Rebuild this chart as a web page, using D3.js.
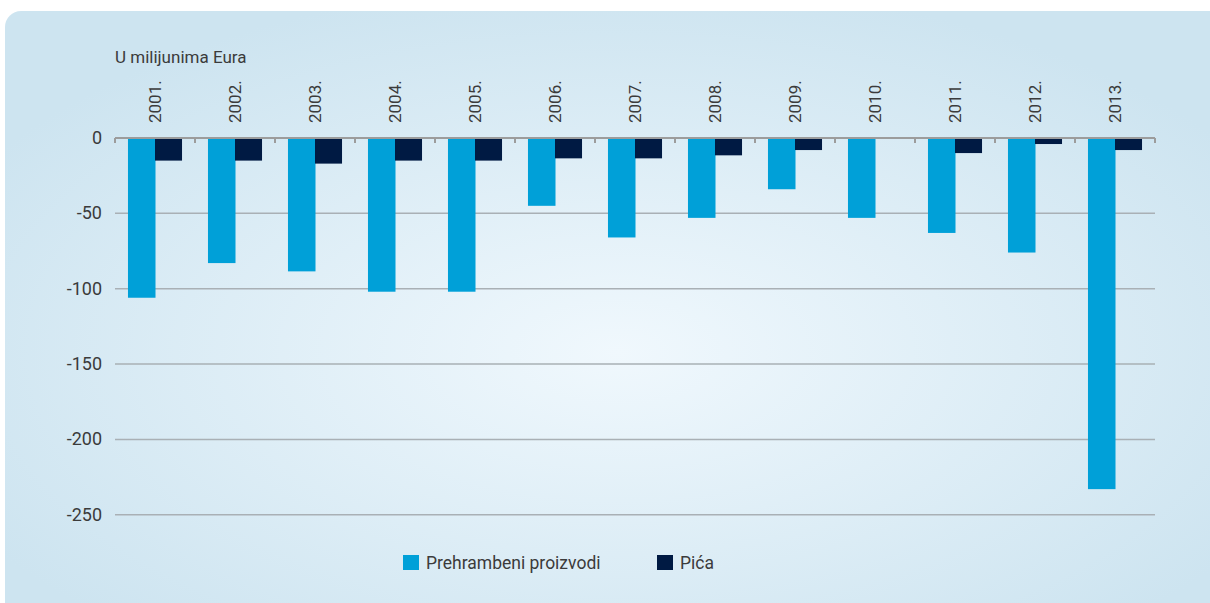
<!DOCTYPE html>
<html>
<head>
<meta charset="utf-8">
<script src="https://cdn.jsdelivr.net/npm/d3@7"></script>
<style>
  body { margin:0; background:#fff; }
  svg text { font-family: Roboto, "Noto Sans", sans-serif; fill:#3b3b3b; }
</style>
</head>
<body>
<svg id="chart"></svg>
<script>
var years = ["2001.","2002.","2003.","2004.","2005.","2006.","2007.","2008.","2009.","2010.","2011.","2012.","2013."]
var food = [-106,-83,-88.5,-102,-102,-45,-66,-53,-34,-53,-63,-76,-233]
var drinks = [-15,-15,-17,-15,-15,-13.5,-13.5,-11.5,-8,-0.5,-10,-4,-8]
var seriesNames = ["Prehrambeni proizvodi","Pića"]
var colors = ["#00a0d8","#001a43"]
var yTicks = [0,-50,-100,-150,-200,-250]

var screen = {width:1210,height:603}
var margins = {top:138,left:115,right:55}

var svg = d3.select("#chart")
    .attr("width",screen.width)
    .attr("height",screen.height)

// background panel
var defs = svg.append("defs")
var grad = defs.append("radialGradient")
    .attr("id","bg")
    .attr("cx","0.5").attr("cy","0.55").attr("r","0.6")
grad.append("stop").attr("offset","0%").attr("stop-color","#f0f8fd")
grad.append("stop").attr("offset","100%").attr("stop-color","#cde4f0")

svg.append("rect")
    .attr("x",5).attr("y",11)
    .attr("width",1225).attr("height",620)
    .attr("rx",16)
    .attr("fill","url(#bg)")

var width = 1155 - margins.left
var xScale = d3.scaleBand()
    .domain(years)
    .range([margins.left, margins.left + width])
    .paddingInner(0)
    .paddingOuter(0)

var inner = d3.scaleBand()
    .domain([0,1])
    .range([0, xScale.bandwidth()])
    .paddingInner(0)
    .paddingOuter(0.48)

var yScale = d3.scaleLinear()
    .domain([0,-250])
    .range([margins.top, margins.top + 250*1.507])

// gridlines
svg.append("g")
    .selectAll("line")
    .data(yTicks.slice(1))
    .enter()
    .append("line")
    .attr("x1",margins.left).attr("x2",margins.left + width)
    .attr("y1",function(d){ return yScale(d) })
    .attr("y2",function(d){ return yScale(d) })
    .attr("stroke","#a9b0b5")
    .attr("stroke-width",1.5)

// y labels
svg.append("g")
    .selectAll("text")
    .data(yTicks)
    .enter()
    .append("text")
    .attr("x",102)
    .attr("y",function(d){ return yScale(d) + 6 })
    .attr("text-anchor","end")
    .style("font-size","18px")
    .text(function(d){ return d })

// bars
var groups = svg.append("g")
    .selectAll("g")
    .data(years)
    .enter()
    .append("g")
    .attr("transform",function(d){ return "translate(" + xScale(d) + ",0)" })

groups.append("rect")
    .attr("x",inner(0))
    .attr("width",inner.bandwidth() + 0.5)
    .attr("y",yScale(0))
    .attr("height",function(d,i){ return yScale(food[i]) - yScale(0) })
    .attr("fill",colors[0])

groups.append("rect")
    .attr("x",inner(1))
    .attr("width",inner.bandwidth())
    .attr("y",yScale(0))
    .attr("height",function(d,i){ return yScale(drinks[i]) - yScale(0) })
    .attr("fill",colors[1])

// zero axis with ticks
svg.append("line")
    .attr("x1",margins.left).attr("x2",margins.left + width)
    .attr("y1",yScale(0)).attr("y2",yScale(0))
    .attr("stroke","#9c9c9c").attr("stroke-width",2)

var bounds = years.map(function(d){ return xScale(d) }).concat([margins.left + width])
svg.append("g")
    .selectAll("line")
    .data(bounds)
    .enter()
    .append("line")
    .attr("x1",function(d){ return d }).attr("x2",function(d){ return d })
    .attr("y1",yScale(0)).attr("y2",yScale(0) + 5)
    .attr("stroke","#9c9c9c").attr("stroke-width",2)

// year labels
svg.append("g")
    .selectAll("text")
    .data(years)
    .enter()
    .append("text")
    .attr("transform",function(d){ return "translate(" + (xScale(d) + xScale.bandwidth()/2 + 6) + ",123) rotate(-90)" })
    .style("font-size","17px")
    .text(function(d){ return d })

// unit label
svg.append("text")
    .attr("x",115).attr("y",63)
    .style("font-size","17px")
    .text("U milijunima Eura")

// legend
var legendX = [403,657]
var legend = svg.append("g")
    .selectAll("g")
    .data(seriesNames)
    .enter()
    .append("g")
    .attr("transform",function(d,i){ return "translate(" + legendX[i] + ",555)" })
legend.append("rect")
    .attr("width",16).attr("height",15)
    .attr("fill",function(d,i){ return colors[i] })
legend.append("text")
    .attr("x",23).attr("y",14)
    .style("font-size","17.5px")
    .text(function(d){ return d })
</script>
</body>
</html>
